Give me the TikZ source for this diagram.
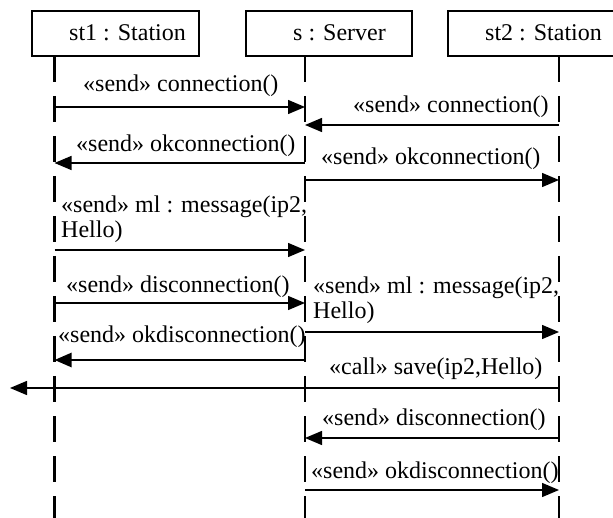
\documentclass[tikz,border=0pt]{standalone}
\usepackage{fontspec}
\setmainfont{Liberation Serif}
\usetikzlibrary{arrows.meta}
\begin{document}
\begin{tikzpicture}[x=1pt,y=-1pt,
  objbox/.style={draw,line width=1.1pt,inner sep=0pt},
  lifeline/.style={line width=2.8pt,dash pattern=on 26pt off 14pt},
  msg/.style={line width=1.4pt,-{Triangle[length=17pt,width=14pt]}},
  msgthick/.style={line width=2.6pt,-{Triangle[length=17pt,width=14pt]}},
  lbl/.style={anchor=base west,inner sep=0pt,font=\fontsize{24}{25}\selectfont,align=left},
  objlbl/.style={anchor=base west,inner sep=0pt,font=\fontsize{24}{25}\selectfont}]
\useasboundingbox (0,0) rectangle (613,518);

% object boxes
\draw[objbox] (32,11) rectangle (199,56);
\draw[objbox] (246,11) rectangle (412,56);
\draw[objbox] (448,11) rectangle (616,56);
\node[objlbl] (n1) at (69,41) {st1 : Station};
\node[objlbl] (n2) at (293,41) {s : Server};
\node[objlbl] (n3) at (485,41) {st2 : Station};

% lifeline ends
\coordinate (a0) at (54.5,56);  \coordinate (a1) at (54.5,520);
\coordinate (b0) at (305,56);   \coordinate (b1) at (305,520);
\coordinate (c0) at (559,56);   \coordinate (c1) at (559,520);
\draw[lifeline] (a0) -- (a1);
\draw[lifeline] (b0) -- (b1);
\draw[lifeline] (c0) -- (c1);

% message anchors on the lifelines
\foreach \y [count=\i] in {107,125,163,180,250,303,332,360,388,438,490}{
  \coordinate (A\i) at (54.5,\y);
  \coordinate (B\i) at (305,\y);
  \coordinate (C\i) at (559,\y);
}
\coordinate (off) at (10,388);

% messages
\draw[msg] (A1) -- (B1);
\draw[msg] (C2) -- (B2);
\draw[msg] (B3) -- (A3);
\draw[msg] (B4) -- (C4);
\draw[msg] (A5) -- (B5);
\draw[msg] (A6) -- (B6);
\draw[msg] (B7) -- (C7);
\draw[msgthick] (B8) -- (A8);
\draw[msg] (C9) -- (off);
\draw[msg] (C10) -- (B10);
\draw[msg] (B11) -- (C11);

% message labels (base = baseline of the last line)
\node[lbl] (m1) at (83,92) {«send» connection()};
\node[lbl] (m2) at (353,113) {«send» connection()};
\node[lbl] (m3) at (76,152) {«send» okconnection()};
\node[lbl] (m4) at (321,165) {«send» okconnection()};
\node[lbl] (m5) at (61,238) {«send» ml : message(ip2,\\Hello)};
\node[lbl] (m6) at (66,293) {«send» disconnection()};
\node[lbl] (m7) at (313,319) {«send» ml : message(ip2,\\Hello)};
\node[lbl] (m8) at (58,343) {«send» okdisconnection()};
\node[lbl] (m9) at (329,375) {«call» save(ip2,Hello)};
\node[lbl] (m10) at (322,425) {«send» disconnection()};
\node[lbl] (m11) at (311,478) {«send» okdisconnection()};
\end{tikzpicture}
\end{document}
